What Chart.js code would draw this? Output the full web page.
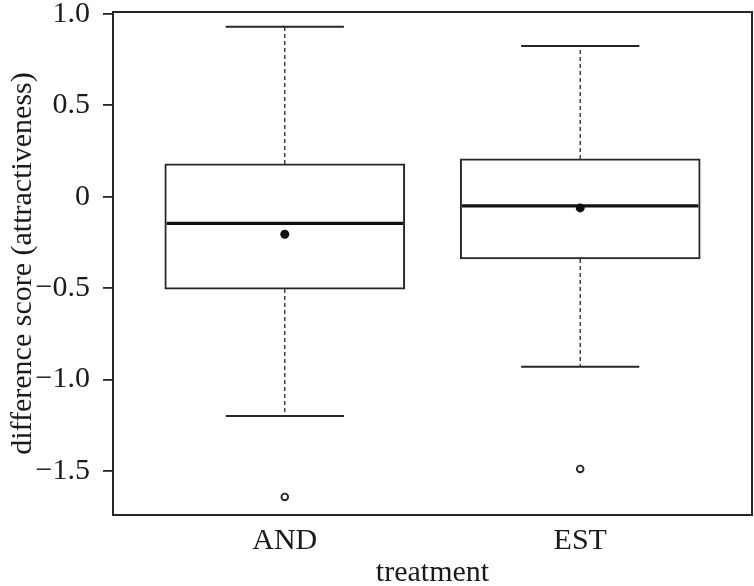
<!DOCTYPE html>
<html>
<head>
<meta charset="utf-8">
<script src="https://cdn.jsdelivr.net/npm/chart.js@4/dist/chart.umd.min.js"></script>
<style>
html,body{margin:0;padding:0;background:#fff;}
#wrap{width:754px;height:586px;}
</style>
</head>
<body>
<div id="wrap"><canvas id="c" width="754" height="586"></canvas></div>
<script>
const categories = ['AND', 'EST'];
const positions = [1, 2];
const whiskerLow = [-1.20, -0.93];
const q1 = [-0.505, -0.34];
const median = [-0.145, -0.05];
const q3 = [0.18, 0.207];
const whiskerHigh = [0.93, 0.825];
const means = [-0.205, -0.061];
const outliers = [[-1.642], [-1.489]];
const yTicks = [-1.5, -1.0, -0.5, 0, 0.5, 1.0];
const yTickLabels = ['\u22121.5', '\u22121.0', '\u22120.5', '0', '0.5', '1.0'];

const FONT = {family: '"Liberation Serif", "DejaVu Serif", serif', size: 30};
const INK = '#262626';
const BOX_HALF = 0.4;
const CAP_HALF = 0.2;

const boxData = positions.map((p, i) => ({x: p, y: [q1[i], q3[i]]}));
const meanData = positions.map((p, i) => ({x: p, y: means[i]}));
const outlierData = [];
positions.forEach((p, i) => outliers[i].forEach(v => outlierData.push({x: p, y: v})));

const boxPlugin = {
  id: 'boxParts',
  afterDatasetsDraw(chart) {
    const ctx = chart.ctx;
    const xs = chart.scales.x, ys = chart.scales.y;
    ctx.save();
    ctx.strokeStyle = INK;
    positions.forEach((p, i) => {
      const xc = xs.getPixelForValue(p);
      ctx.setLineDash([4, 3]);
      ctx.lineWidth = 1.3;
      ctx.beginPath();
      ctx.moveTo(xc, ys.getPixelForValue(q3[i]));
      ctx.lineTo(xc, ys.getPixelForValue(whiskerHigh[i]));
      ctx.moveTo(xc, ys.getPixelForValue(q1[i]));
      ctx.lineTo(xc, ys.getPixelForValue(whiskerLow[i]));
      ctx.stroke();
      ctx.setLineDash([]);
      ctx.lineWidth = 2;
      ctx.beginPath();
      const xl = xs.getPixelForValue(p - CAP_HALF), xr = xs.getPixelForValue(p + CAP_HALF);
      ctx.moveTo(xl, ys.getPixelForValue(whiskerHigh[i]));
      ctx.lineTo(xr, ys.getPixelForValue(whiskerHigh[i]));
      ctx.moveTo(xl, ys.getPixelForValue(whiskerLow[i]));
      ctx.lineTo(xr, ys.getPixelForValue(whiskerLow[i]));
      ctx.stroke();
      ctx.lineWidth = 3.2;
      ctx.strokeStyle = '#111';
      ctx.beginPath();
      ctx.moveTo(xs.getPixelForValue(p - BOX_HALF), ys.getPixelForValue(median[i]));
      ctx.lineTo(xs.getPixelForValue(p + BOX_HALF), ys.getPixelForValue(median[i]));
      ctx.stroke();
      ctx.strokeStyle = INK;
    });
    ctx.restore();
  },
  afterDraw(chart) {
    const a = chart.chartArea, ctx = chart.ctx;
    ctx.save();
    ctx.strokeStyle = INK;
    ctx.lineWidth = 2;
    ctx.strokeRect(a.left, a.top, a.right - a.left, a.bottom - a.top);
    ctx.restore();
  }
};

new Chart(document.getElementById('c'), {
  type: 'bar',
  data: {
    datasets: [
      {
        type: 'scatter', label: 'mean', data: meanData,
        pointRadius: 4.5, pointBackgroundColor: '#111', pointBorderColor: '#111', pointBorderWidth: 0,
        order: 0
      },
      {
        type: 'scatter', label: 'outliers', data: outlierData,
        pointRadius: 3.3, pointBackgroundColor: '#fff', pointBorderColor: INK, pointBorderWidth: 1.9,
        order: 0
      },
      {
        type: 'bar', label: 'box', data: boxData,
        backgroundColor: '#fff', borderColor: INK, borderWidth: 2, borderSkipped: false,
        barThickness: 240, grouped: false, order: 1
      }
    ]
  },
  plugins: [boxPlugin],
  options: {
    responsive: false,
    animation: false,
    layout: {autoPadding: false, padding: {top: 12, right: 2, left: 0, bottom: 0}},
    plugins: {legend: {display: false}, tooltip: {enabled: false}},
    scales: {
      x: {
        type: 'linear', min: 0.4186, max: 2.5814, offset: false, bounds: 'ticks',
        afterBuildTicks: s => { s.ticks = positions.map(v => ({value: v})); },
        afterFit: s => { s.height = 71; s.paddingLeft = 0; s.paddingRight = 0; },
        grid: {display: false, drawTicks: false, offset: false},
        border: {display: false},
        ticks: {
          font: FONT, color: '#1a1a1a', padding: 8, maxRotation: 0, autoSkip: false,
          callback: (v) => { const k = positions.indexOf(v); return k >= 0 ? categories[k] : ''; }
        },
        title: {display: true, text: 'treatment', font: FONT, color: '#1a1a1a', padding: {top: 0, bottom: -5}}
      },
      y: {
        type: 'linear', min: -1.741, max: 1.011,
        afterBuildTicks: s => { s.ticks = yTicks.map(v => ({value: v})); },
        afterFit: s => { s.width = 113; s.paddingTop = 0; s.paddingBottom = 0; },
        grid: {drawOnChartArea: false, drawTicks: true, tickLength: 10, tickColor: INK, lineWidth: 1.8},
        border: {display: false},
        ticks: {
          font: FONT, color: '#1a1a1a', padding: 13, autoSkip: false,
          callback: (v) => { const k = yTicks.indexOf(v); return k >= 0 ? yTickLabels[k] : ''; }
        },
        title: {display: true, text: 'difference score (attractiveness)', font: FONT, color: '#1a1a1a', padding: {top: 5, bottom: 0}}
      }
    }
  }
});
</script>
</body>
</html>
